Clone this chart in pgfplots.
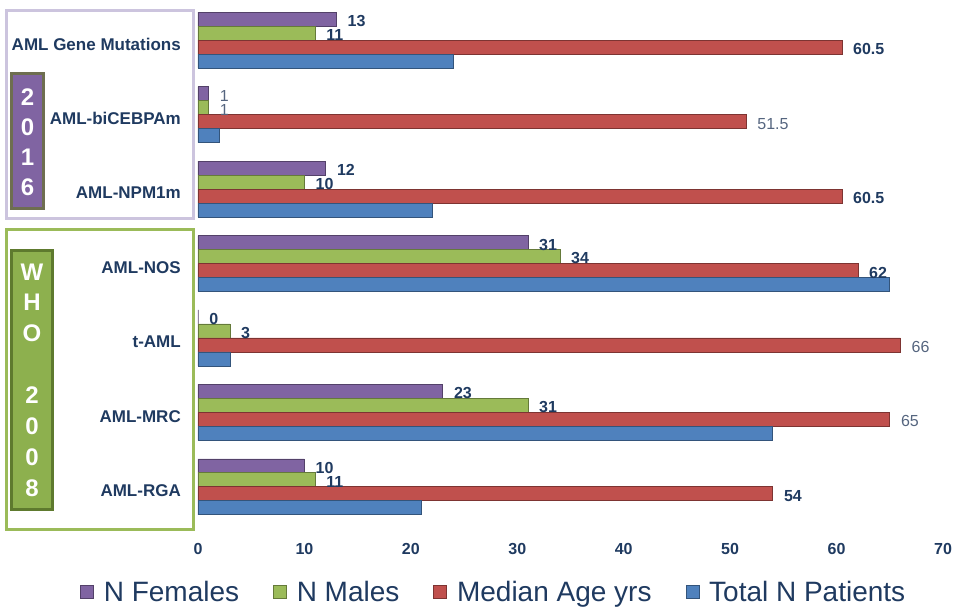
\documentclass[border=0pt]{standalone}
\usepackage{pgfplots}
\pgfplotsset{compat=1.18}
\usepackage{fontspec}
\setmainfont{Liberation Sans}
\definecolor{cF}{HTML}{8064A2}
\definecolor{cM}{HTML}{9BBB59}
\definecolor{cA}{HTML}{C0504D}
\definecolor{cT}{HTML}{4F81BD}
\definecolor{navy}{HTML}{1F3A60}
\definecolor{lblgray}{HTML}{55657F}
\definecolor{lav}{HTML}{CCC4DE}
\definecolor{boxgreen}{HTML}{9BBB59}
\definecolor{fillgreen}{HTML}{8DB04E}
\definecolor{olivegray}{HTML}{6E6E50}
\definecolor{dkgreen}{HTML}{5E7A2E}
\protected\def\Bv#1{{\bfseries\color{navy}#1}}
\protected\def\Rv#1{{\color{lblgray}#1}}
\begin{document}
\begin{tikzpicture}
\useasboundingbox (-198pt,-83pt) rectangle (760pt,524pt);
\begin{axis}[
  at={(0pt,0pt)}, anchor=south west,
  scale only axis, width=745pt, height=521pt,
  xbar, bar width=0.188,
  xmin=0, xmax=70, ymin=-0.5, ymax=6.5,
  xtick={0,10,...,70},
  ytick={0,...,6},
  yticklabels={AML-RGA, AML-MRC, t-AML, AML-NOS, AML-NPM1m, AML-biCEBPAm, AML Gene Mutations},
  axis line style={draw=none},
  major tick length=0pt,
  /pgf/number format/assume math mode=true,
  xticklabel style={font=\fontsize{16}{16}\selectfont\bfseries, text=navy, anchor=center, yshift=-25pt},
  yticklabel style={font=\fontsize{17}{17}\selectfont\bfseries, text=navy, anchor=east, inner sep=0pt, xshift=-17pt, yshift=-4pt},
  every node near coord/.append style={font=\fontsize{16}{16}\selectfont, anchor=west, inner sep=0pt, xshift=11pt, yshift=-2pt},
  clip=false,
  legend columns=4,
  legend style={at={(-0.1584,-0.1299)}, anchor=west, draw=none, fill=none, inner sep=0pt,
    font=\fontsize{28}{28}\selectfont, text=navy,
    /tikz/every odd column/.append style={column sep=8pt},
    /tikz/every even column/.append style={column sep=32pt},
    cells={anchor=west}},
  legend image code/.code={\fill[#1] (0pt,-7pt) rectangle (13pt,6pt);},
]
\addplot[fill=cF, draw=cF!65!black, line width=0.6pt, bar shift=0.282,
  nodes near coords, point meta=explicit symbolic] coordinates {
  (13,6) [\Bv{13}] (1,5) [\Rv{1}] (12,4) [\Bv{12}] (31,3) [\Bv{31}]
  (0,2) [\Bv{0}] (23,1) [\Bv{23}] (10,0) [\Bv{10}]};
\addlegendentry{N Females}
\addplot[fill=cM, draw=cM!65!black, line width=0.6pt, bar shift=0.094,
  nodes near coords, point meta=explicit symbolic] coordinates {
  (11,6) [\Bv{11}] (1,5) [\Rv{1}] (10,4) [\Bv{10}] (34,3) [\Bv{34}]
  (3,2) [\Bv{3}] (31,1) [\Bv{31}] (11,0) [\Bv{11}]};
\addlegendentry{N Males}
\addplot[fill=cA, draw=cA!65!black, line width=0.6pt, bar shift=-0.094,
  nodes near coords, point meta=explicit symbolic] coordinates {
  (60.5,6) [\Bv{60.5}] (51.5,5) [\Rv{51.5}] (60.5,4) [\Bv{60.5}] (62,3) [\Bv{62}]
  (66,2) [\Rv{66}] (65,1) [\Rv{65}] (54,0) [\Bv{54}]};
\addlegendentry{Median Age yrs}
\addplot[fill=cT, draw=cT!65!black, line width=0.6pt, bar shift=-0.282] coordinates {
  (24,6) (2,5) (22,4) (65,3) (3,2) (54,1) (21,0)};
\addlegendentry{Total N Patients}
\end{axis}
\begin{scope}[shift={(-198pt,524pt)}, x=1pt, y=-1pt]
\draw[lav, line width=3pt] (6.5,11) rectangle (193.5,218.5);
\draw[olivegray, line width=2.5pt, fill=cF] (11.5,73.5) rectangle (43.5,208.5);
\foreach \t/\yy in {2/97,0/127,1/157,6/187}
  \node[text=white, font=\fontsize{24}{24}\selectfont\bfseries, inner sep=0pt] at (27.5,\yy) {\t};
\draw[boxgreen, line width=3pt] (6.5,230) rectangle (193.5,530);
\draw[dkgreen, line width=2.5pt, fill=fillgreen] (11.5,250.5) rectangle (52.5,509.5);
\foreach \t/\yy in {W/272,H/302.7,O/333.5,2/395,0/426,0/457,8/488}
  \node[text=white, font=\fontsize{24}{24}\selectfont\bfseries, inner sep=0pt] at (32,\yy) {\t};
\end{scope}
\end{tikzpicture}
\end{document}
